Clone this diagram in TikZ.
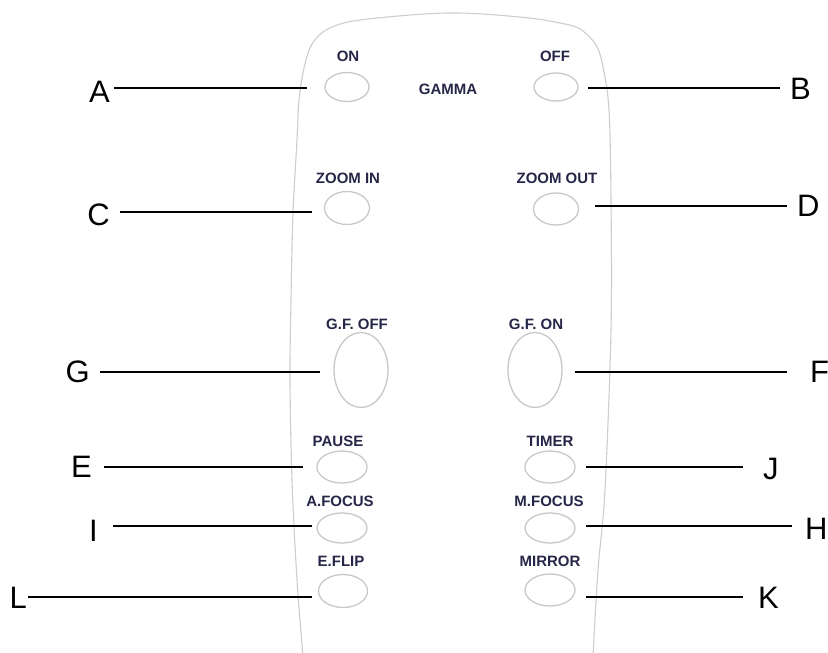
\documentclass[tikz,border=0pt]{standalone}
\usepackage{fontspec}
\setmainfont{Liberation Sans}
\usetikzlibrary{shapes.geometric}
\definecolor{keyink}{RGB}{38,38,72}
\definecolor{rimgray}{RGB}{205,205,205}
\definecolor{keygray}{RGB}{200,200,200}
\tikzset{
  body/.style={draw=rimgray, line width=1.1pt},
  key/.style={ellipse, draw=keygray, line width=1.3pt, inner sep=0pt},
  smallkey/.style={key, minimum width=44pt, minimum height=29pt},
  tallkey/.style={key, minimum width=54pt, minimum height=75pt},
  keyname/.style={font=\fontsize{15}{15}\selectfont\bfseries, text=keyink, inner sep=0pt},
  tagL/.style={font=\fontsize{31}{31}\selectfont, anchor=east, inner ysep=0pt, inner xsep=#1},
  tagR/.style={font=\fontsize{31}{31}\selectfont, anchor=west, inner ysep=0pt, inner xsep=#1},
  leader/.style={draw=black, line width=2.2pt}
}
\begin{document}
\begin{tikzpicture}[x=1pt, y=-1pt]
\useasboundingbox (0,0) rectangle (828,653);

% outline of the handset
\draw[body] plot[smooth, tension=0.55] coordinates {
  (303,656) (297,580) (292,480) (290,380) (291,300) (293,213) (297,140)
  (299,100) (304,68) (312,44) (328,29) (360,20) (447,13) (520,17)
  (560,23) (580,29) (596,45) (603,67) (609,110) (611,200) (611,330)
  (605,490) (598,570) (593,656)};

% buttons
\node[smallkey, minimum width=44pt, minimum height=29pt] (on)     at (347,87)  {};
\node[smallkey, minimum width=44pt, minimum height=28pt] (off)    at (556,87)  {};
\node[smallkey, minimum width=45pt, minimum height=33pt] (zin)    at (347,208) {};
\node[smallkey, minimum width=45pt, minimum height=32pt] (zout)   at (556,209) {};
\node[tallkey] (gfoff)  at (361,370) {};
\node[tallkey] (gfon)   at (535,370) {};
\node[smallkey, minimum width=50pt, minimum height=32pt] (pause)  at (342,467) {};
\node[smallkey, minimum width=50pt, minimum height=32pt] (timer)  at (550,467) {};
\node[smallkey, minimum width=50pt, minimum height=30pt] (afocus) at (342,528) {};
\node[smallkey, minimum width=50pt, minimum height=30pt] (mfocus) at (550,528) {};
\node[smallkey, minimum width=49pt, minimum height=33pt] (eflip)  at (343,591) {};
\node[smallkey, minimum width=50pt, minimum height=32pt] (mirror) at (550,590) {};

% button captions
\node[keyname] (t-on)     at (348,56)  {ON};
\node[keyname] (t-off)    at (555,56)  {OFF};
\node[keyname] (t-gamma)  at (448,89)  {GAMMA};
\node[keyname] (t-zin)    at (348,178) {ZOOM IN};
\node[keyname] (t-zout)   at (557,178) {ZOOM OUT};
\node[keyname] (t-gfoff)  at (357,324) {G.F. OFF};
\node[keyname] (t-gfon)   at (536,324) {G.F. ON};
\node[keyname] (t-pause)  at (338,441) {PAUSE};
\node[keyname] (t-timer)  at (550,441) {TIMER};
\node[keyname] (t-afocus) at (340,501) {A.FOCUS};
\node[keyname] (t-mfocus) at (549,501) {M.FOCUS};
\node[keyname] (t-eflip)  at (341,561) {E.FLIP};
\node[keyname] (t-mirror) at (550,561) {MIRROR};

% callout letters, left column
\node[tagL=4pt]  (A) at (114,92)  {A};
\node[tagL=10pt] (C) at (120,215) {C};
\node[tagL=10pt] (G) at (100,372) {G};
\node[tagL=12pt] (E) at (104,467) {E};
\node[tagL=15pt] (I) at (113,531) {I};
\node[tagL=1pt]  (L) at (28,598)  {L};
% callout letters, right column
\node[tagR=10pt] (B) at (780,89)  {B};
\node[tagR=10pt] (D) at (787,206) {D};
\node[tagR=23pt] (F) at (787,372) {F};
\node[tagR=20pt] (J) at (743,469) {J};
\node[tagR=13pt] (H) at (792,529) {H};
\node[tagR=15pt] (K) at (743,598) {K};

% leader ends beside the buttons
\coordinate (a-end) at (307,88);
\coordinate (c-end) at (312,212);
\coordinate (g-end) at (320,372);
\coordinate (e-end) at (303,467);
\coordinate (i-end) at (312,526);
\coordinate (l-end) at (312,597);
\coordinate (b-end) at (588,88);
\coordinate (d-end) at (595,206);
\coordinate (f-end) at (575,372);
\coordinate (j-end) at (586,467);
\coordinate (h-end) at (586,526);
\coordinate (k-end) at (586,597);

% leaders
\draw[leader] (A.east |- a-end) -- (a-end);
\draw[leader] (C.east |- c-end) -- (c-end);
\draw[leader] (G.east |- g-end) -- (g-end);
\draw[leader] (E.east |- e-end) -- (e-end);
\draw[leader] (I.east |- i-end) -- (i-end);
\draw[leader] (L.east |- l-end) -- (l-end);
\draw[leader] (b-end) -- (B.west |- b-end);
\draw[leader] (d-end) -- (D.west |- d-end);
\draw[leader] (f-end) -- (F.west |- f-end);
\draw[leader] (j-end) -- (J.west |- j-end);
\draw[leader] (h-end) -- (H.west |- h-end);
\draw[leader] (k-end) -- (K.west |- k-end);
\end{tikzpicture}
\end{document}
